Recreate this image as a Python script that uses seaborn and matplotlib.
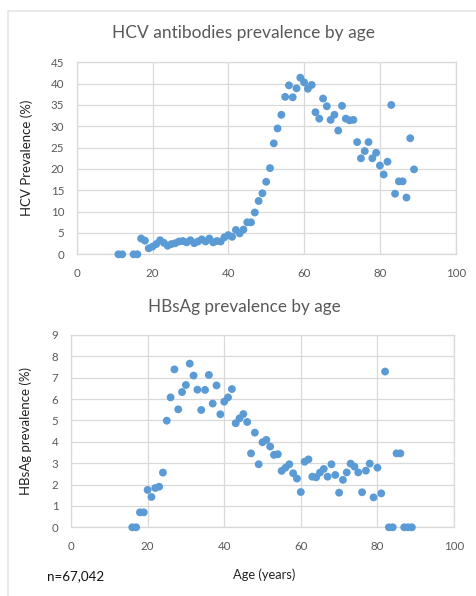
import matplotlib
matplotlib.use("Agg")
import matplotlib.pyplot as plt
from matplotlib.lines import Line2D
import seaborn as sns
import pandas as pd

# HCV antibodies prevalence by age
hcv_age = [11, 12, 15, 16, 17, 18, 19, 20, 21, 22, 23, 24, 25, 26, 27, 28, 29, 30,
           31, 32, 33, 34, 35, 36, 37, 38, 39, 40, 41, 42, 43, 44, 45, 46, 47, 48,
           49, 50, 51, 52, 53, 54, 55, 56, 57, 58, 59, 60, 61, 62, 63, 64, 65, 66,
           67, 68, 69, 70, 71, 72, 73, 74, 75, 76, 77, 78, 79, 80, 81, 82, 83, 84,
           85, 86, 87, 88, 89]
hcv_prev = [0, 0, 0, 0, 3.7, 3.2, 1.4, 1.8, 2.4, 3.3, 2.7, 2.0, 2.4, 2.6, 3.0, 3.1,
            2.8, 3.3, 2.6, 3.0, 3.5, 3.0, 3.7, 2.8, 3.1, 3.0, 4.0, 4.5, 4.1, 5.7,
            4.9, 5.8, 7.5, 7.5, 9.8, 12.5, 14.3, 17.0, 20.2, 26.0, 29.5, 32.7, 36.9,
            39.6, 36.8, 38.9, 41.4, 40.3, 38.8, 39.7, 33.3, 31.8, 36.5, 34.7, 31.5,
            32.7, 29.0, 34.8, 31.8, 31.4, 31.5, 26.3, 22.5, 24.2, 26.3, 22.5, 23.8,
            20.8, 18.7, 21.7, 35.0, 14.2, 17.1, 17.1, 13.3, 27.2, 19.9]

# HBsAg prevalence by age
hbs_age = list(range(16, 90))
hbs_prev = [0, 0, 0.7, 0.7, 1.75, 1.42, 1.84, 1.9, 2.56, 4.99, 6.08, 7.39, 5.52,
            6.33, 6.66, 7.66, 7.1, 6.44, 5.49, 6.43, 7.13, 5.79, 6.64, 5.29, 5.88,
            6.08, 6.47, 4.87, 5.1, 5.3, 4.93, 3.46, 4.43, 2.95, 3.98, 4.09, 3.78,
            3.39, 3.42, 2.64, 2.79, 2.95, 2.53, 2.28, 1.65, 3.07, 3.18, 2.37, 2.34,
            2.56, 2.73, 2.37, 2.95, 2.45, 1.62, 2.22, 2.57, 2.98, 2.84, 2.57, 1.64,
            2.65, 2.98, 1.4, 2.79, 1.59, 7.29, 0, 0, 3.46, 3.46, 0, 0, 0]

x_ticks = [0, 20, 40, 60, 80, 100]
hcv_yticks = [0, 5, 10, 15, 20, 25, 30, 35, 40, 45]
hbs_yticks = [0, 1, 2, 3, 4, 5, 6, 7, 8, 9]

sns.set_theme(style="white")
plt.rcParams['font.family'] = ['Lato', 'DejaVu Sans']

W, H = 476, 596
fig = plt.figure(figsize=(W / 100, H / 100), dpi=100)

DOT = "#5B9BD5"
GRID = "#D9D9D9"
TICKC = "#595959"

def px_axes(l, t, r, b):
    return fig.add_axes([l / W, 1 - b / H, (r - l) / W, (b - t) / H])

ax1 = px_axes(76.7, 62.3, 455.7, 254.3)
ax2 = px_axes(71, 335, 454, 527.3)

df1 = pd.DataFrame({"age": hcv_age, "prev": hcv_prev})
df2 = pd.DataFrame({"age": hbs_age, "prev": hbs_prev})

for ax, df, yt in [(ax1, df1, hcv_yticks), (ax2, df2, hbs_yticks)]:
    sns.scatterplot(data=df, x="age", y="prev", ax=ax, color=DOT, s=32,
                    edgecolor="none", linewidth=0, zorder=3, clip_on=False)
    ax.set_xlim(0, 100)
    ax.set_ylim(yt[0], yt[-1])
    ax.set_xticks(x_ticks)
    ax.set_yticks(yt)
    ax.grid(True, color=GRID, linewidth=0.9)
    ax.set_axisbelow(True)
    for sp in ax.spines.values():
        sp.set_color(GRID)
        sp.set_linewidth(0.9)
    ax.tick_params(axis="both", length=0, labelsize=8.3, labelcolor=TICKC)
    ax.tick_params(axis="x", pad=10)
    ax.tick_params(axis="y", pad=9)
    ax.set_xlabel("")
    ax.set_ylabel("")

ax1.set_ylabel("HCV Prevalence (%)", fontsize=9.5, color="#222222", labelpad=13)
ax2.set_ylabel("HBsAg prevalence (%)", fontsize=9.5, color="#222222", labelpad=14)

fig.text(244 / W, 1 - 33 / H, "HCV antibodies prevalence by age", ha="center",
         va="center", fontsize=12.5, color=TICKC)
fig.text(244 / W, 1 - 307 / H, "HBsAg prevalence by age", ha="center",
         va="center", fontsize=12.3, color=TICKC)
fig.text(264 / W, 1 - 575 / H, "Age (years)", ha="center", va="center",
         fontsize=9.3, color="#222222")
fig.text(47 / W, 1 - 576 / H, "n=67,042", ha="left", va="center",
         fontsize=9.6, color="#111111")

# faint chart-area borders
fig.add_artist(Line2D([8 / W, 1], [1 - 11 / H, 1 - 11 / H], color="#E6E6E6",
                      linewidth=1.2, transform=fig.transFigure))
fig.add_artist(Line2D([8 / W, 8 / W], [0, 1 - 11 / H], color="#E6E6E6",
                      linewidth=1.2, transform=fig.transFigure))

fig.savefig("out.png", dpi=100)
